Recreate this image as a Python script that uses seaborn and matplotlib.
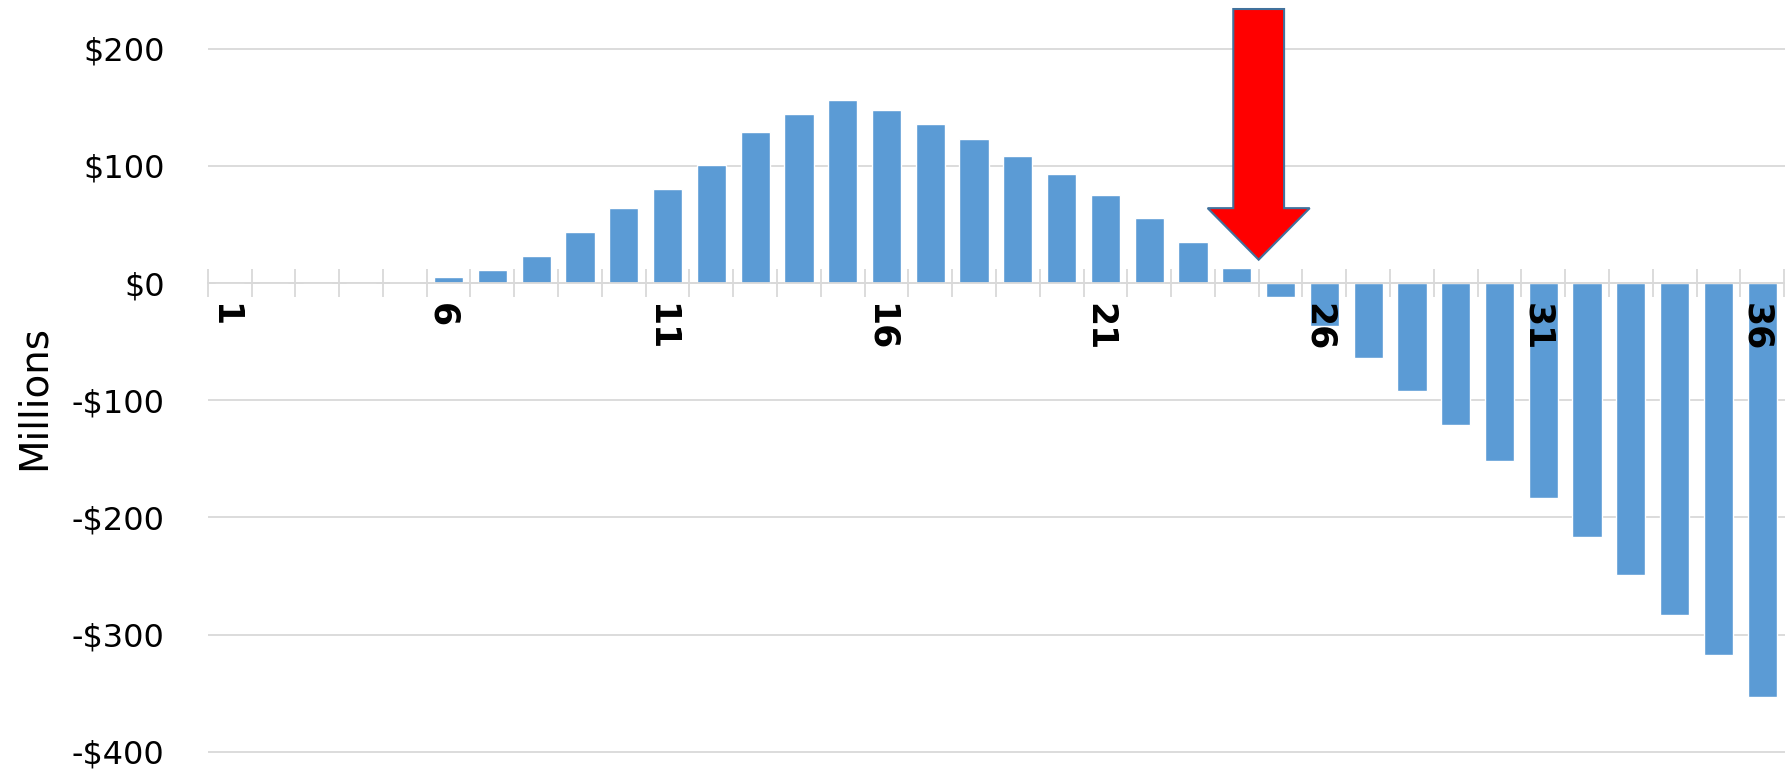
import matplotlib
matplotlib.use('Agg')
import matplotlib.pyplot as plt
import matplotlib.transforms as mtransforms
import seaborn as sns
from matplotlib.patches import FancyArrow

periods = list(range(1, 37))
values = [0, 0, 0, 0, 0.8, 5.5, 11.5, 23, 43.5, 64, 80.5, 101, 129, 144.5, 156, 147.5,
          136, 123, 108.5, 93, 75, 56, 35, 12.5, -11.5, -37, -64, -92, -121, -152,
          -183.5, -216.5, -249.5, -283.5, -317.5, -353.5]
label_periods = [1, 6, 11, 16, 21, 26, 31, 36]
y_ticks = [-400, -300, -200, -100, 0, 100, 200]
y_labels = ['-$400', '-$300', '-$200', '-$100', '$0', '$100', '$200']

sns.set_style('white')
plt.rcParams['font.family'] = ['DejaVu Sans']

fig = plt.figure(figsize=(17.85, 7.71), dpi=100)
ax = fig.add_axes([0.1164, 0.0, 0.8836, 1.0])

# gridlines behind bars, drawn by hand so the tick labels can sit above the bars
for yv in y_ticks:
    ax.axhline(yv, color='#d9d9d9', linewidth=1.3, zorder=0)

sns.barplot(x=periods, y=values, color='#5B9BD5', saturation=1, width=0.667, ax=ax)

ax.set_xlim(-0.5, 35.52)
ax.set_ylim(-416.5, 241.7)

ax.set_yticks(y_ticks)
ax.set_yticklabels(y_labels, fontsize=23, color='black')
ax.tick_params(axis='y', length=0, pad=31)

# category axis through zero
for s in ['left', 'right', 'top']:
    ax.spines[s].set_visible(False)
ax.spines['bottom'].set_position(('data', 0))
ax.spines['bottom'].set_color('#d9d9d9')
ax.spines['bottom'].set_linewidth(1.3)
ax.set_xticks([p - 1 for p in label_periods])
ax.set_xticklabels([str(p) for p in label_periods], rotation=-90, fontsize=25,
                   fontweight='bold', va='top', ha='center', color='black')
ax.tick_params(axis='x', which='major', length=0, pad=14)
ax.set_xticks([i - 0.5 for i in range(37)], minor=True)
ax.tick_params(axis='x', which='minor', bottom=True, length=20, direction='inout',
               color='#d9d9d9', width=1.3)
ax.set_xlabel('')
ax.xaxis.set_zorder(3)
shift = mtransforms.ScaledTranslation(-6 / 100, 0, fig.dpi_scale_trans)
for lab in ax.get_xticklabels():
    lab.set_transform(lab.get_transform() + shift)

fig.text(0.019, 0.485, 'Millions', rotation=90, fontsize=28, ha='center', va='center',
         color='black')

# red arrow pointing at the crossover
arrow = FancyArrow(23.5, 234, 0, -214, width=1.16, head_width=2.33, head_length=44,
                   length_includes_head=True, facecolor='#FF0000', edgecolor='#41719C',
                   linewidth=1.5, zorder=5)
ax.add_patch(arrow)

fig.savefig('out.png', dpi=100)
